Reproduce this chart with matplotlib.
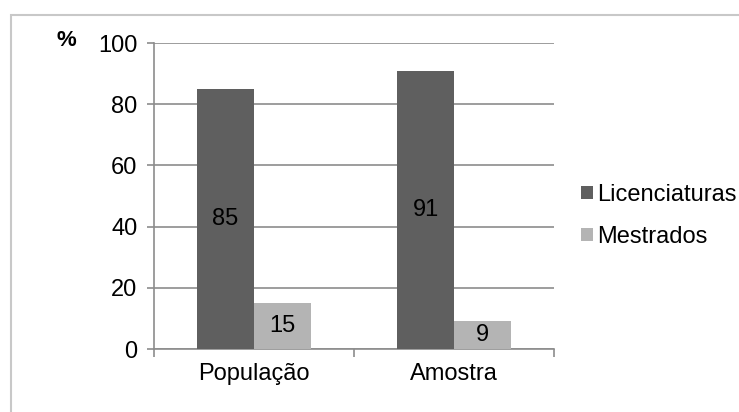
import matplotlib
matplotlib.use("Agg")
import matplotlib.pyplot as plt
from matplotlib.patches import Rectangle
import numpy as np

categories = ["População", "Amostra"]
licenciaturas = [85, 91]
mestrados = [15, 9]
series_names = ["Licenciaturas", "Mestrados"]
yticks = [0, 20, 40, 60, 80, 100]

dark = "#5f5f5f"
light = "#b4b4b4"
grid_c = "#8c8c8c"
fs = 17

plt.rcParams["font.family"] = ["Liberation Sans", "DejaVu Sans"]

fig = plt.figure(figsize=(7.39, 4.12), dpi=100)
fig.patch.set_facecolor("white")

# outer chart-area frame (open to the right and bottom)
fig.add_artist(Rectangle((10.5 / 739, -0.1), 1.2, (412 - 14.5) / 412 + 0.1,
                         transform=fig.transFigure, fill=False,
                         edgecolor="#c8c8c8", linewidth=1.5))

ax = fig.add_axes([154 / 739, 1 - 349 / 412, 400 / 739, 306 / 412])

x = np.arange(len(categories))
w = 0.285
b1 = ax.bar(x - w / 2, licenciaturas, w, color=dark, label=series_names[0], zorder=3)
b2 = ax.bar(x + w / 2, mestrados, w, color=light, label=series_names[1], zorder=3)

for bars, vals in ((b1, licenciaturas), (b2, mestrados)):
    for r, v in zip(bars, vals):
        ax.text(r.get_x() + r.get_width() / 2, v / 2, str(v), ha="center",
                va="center", fontsize=fs, color="black", zorder=4)

ax.set_xlim(-0.5, len(categories) - 0.5)
ax.set_ylim(0, 100)
ax.set_yticks(yticks)
ax.set_yticklabels([str(t) for t in yticks], fontsize=fs)
ax.yaxis.grid(True, color=grid_c, linewidth=1.2, zorder=0)
ax.set_axisbelow(True)

ax.set_xticks([-0.5, 0.5, 1.5], minor=False)
ax.set_xticklabels([])
ax.set_xticks(x, minor=True)
ax.set_xticklabels(categories, minor=True, fontsize=fs)
ax.tick_params(axis="x", which="minor", length=0, pad=10)
ax.tick_params(axis="x", which="major", length=6, color=grid_c, width=1.2)
ax.tick_params(axis="y", length=5, color=grid_c, width=1.2, pad=7)

for s in ("top", "right"):
    ax.spines[s].set_visible(False)
for s in ("left", "bottom"):
    ax.spines[s].set_color(grid_c)
    ax.spines[s].set_linewidth(1.2)

fig.text(66 / 739, 1 - 41 / 412, "%", fontsize=16, fontweight="bold",
         ha="center", va="center")

ax.legend(loc="center left", bbox_to_anchor=(581 / 739, 1 - 216 / 412),
          bbox_transform=fig.transFigure, frameon=False, fontsize=fs,
          handlelength=0.5, handleheight=0.5, handletextpad=0.2,
          labelspacing=0.85, borderpad=0, borderaxespad=0)

fig.savefig("out.png", dpi=100, facecolor="white")
